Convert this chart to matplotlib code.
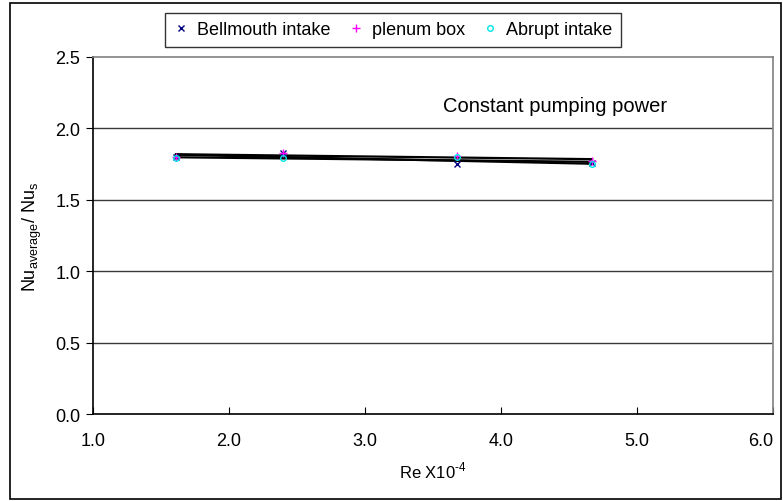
import numpy as np
import matplotlib
matplotlib.use("Agg")
import matplotlib.pyplot as plt
from matplotlib.patches import Rectangle

re_x = [1.61, 2.40, 3.68, 4.67]
bellmouth = [1.80, 1.83, 1.75, 1.76]
plenum = [1.80, 1.83, 1.81, 1.77]
abrupt = [1.79, 1.79, 1.80, 1.75]
x_ticks = [1.0, 2.0, 3.0, 4.0, 5.0, 6.0]
y_ticks = [0.0, 0.5, 1.0, 1.5, 2.0, 2.5]

plt.rcParams['font.family'] = ['Liberation Sans', 'DejaVu Sans']
plt.rcParams['mathtext.fontset'] = 'custom'
plt.rcParams['mathtext.rm'] = 'Liberation Sans'

fig = plt.figure(figsize=(7.83, 5.02), dpi=100)
ax = fig.add_axes([93/783, 1-415/502, (773-93)/783, (415-58)/502])

# outer border
fig.patches.append(Rectangle((10/783, 2/502), 771/783, 496/502, transform=fig.transFigure,
                             fill=False, edgecolor='black', lw=1.2))

ax.set_xlim(1.0, 6.0)
ax.set_ylim(0.0, 2.5)
ax.set_xticks(x_ticks)
ax.set_yticks(y_ticks)
ax.set_xticklabels([f"{v:.1f}" for v in x_ticks], fontsize=13)
ax.set_yticklabels([f"{v:.1f}" for v in y_ticks], fontsize=13)
ax.tick_params(axis='x', direction='in', length=5, pad=13)
ax.tick_params(axis='y', direction='out', length=5, pad=4)
ax.get_xticklabels()[-1].set_horizontalalignment('right')

for yv in y_ticks[1:-1]:
    ax.axhline(yv, color='#3a3a3a', lw=1.0, zorder=1)

for s in ['left', 'bottom']:
    ax.spines[s].set_color('black')
    ax.spines[s].set_linewidth(1.2)
for s in ['top', 'right']:
    ax.spines[s].set_color('#808080')
    ax.spines[s].set_linewidth(1.2)

xs = np.array(re_x)
for ys in (bellmouth, plenum, abrupt):
    k, b = np.polyfit(xs, ys, 1)
    ax.plot([xs[0], xs[-1]], [k*xs[0]+b, k*xs[-1]+b], color='black', lw=1.6, zorder=2)

ax.plot(re_x, bellmouth, linestyle='none', marker='x', color='#000080', ms=5, mew=1.0,
        label='Bellmouth intake', zorder=3)
ax.plot(re_x, plenum, linestyle='none', marker='+', color='#ff00ff', ms=6, mew=1.0,
        label='plenum box', zorder=3)
ax.plot(re_x, abrupt, linestyle='none', marker='o', mfc='none', mec='#00e5e5', ms=4, mew=1.0,
        label='Abrupt intake', zorder=3)

ax.text(3.57, 2.16, 'Constant pumping power', fontsize=14.5, va='center', ha='left')

ax.set_xlabel(r'Re X10$^{\text{-4}}$', fontsize=12, labelpad=8)
ax.set_ylabel(r'Nu$_{\rm average}$/ Nu$_{\rm s}$', fontsize=13, labelpad=8)

leg = fig.legend(loc='center', bbox_to_anchor=(393/783, 1-31/502), ncol=3, fontsize=13,
                 frameon=True, fancybox=False, edgecolor='black', handlelength=0.8,
                 handletextpad=0.5, columnspacing=1.0, borderpad=0.45, markerscale=1.0)
leg.get_frame().set_linewidth(1.0)

fig.savefig('out.png', dpi=100)
